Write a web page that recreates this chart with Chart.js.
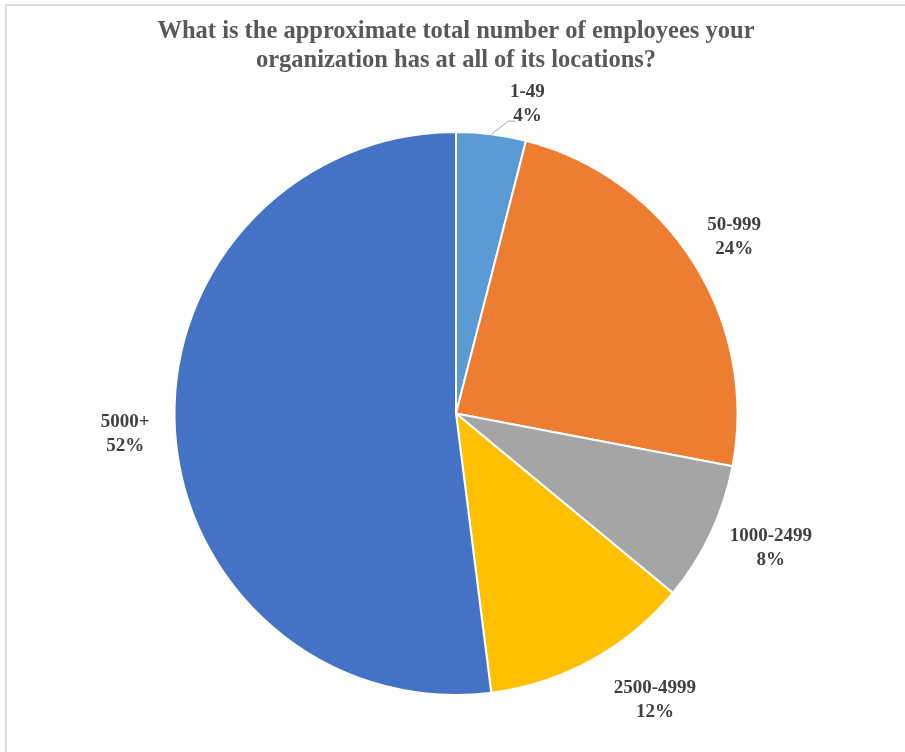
<!DOCTYPE html>
<html>
<head>
<meta charset="utf-8">
<script src="https://cdn.jsdelivr.net/npm/chart.js@4.4.1/dist/chart.umd.min.js"></script>
<style>
html,body{margin:0;padding:0;background:#fff;}
#wrap{position:relative;width:905px;height:752px;}
#frame{position:absolute;left:5px;top:4px;right:0;bottom:0;border-top:2px solid #dcdcdc;border-left:2px solid #dcdcdc;}
canvas{position:absolute;left:0;top:0;}
</style>
</head>
<body>
<div id="wrap">
<div id="frame"></div>
<canvas id="pieChart" width="905" height="752"></canvas>
</div>
<script>
const titleLines = [
"What is the approximate total number of employees your",
"organization has at all of its locations?"
];

const categories = ["1-49","50-999","1000-2499","2500-4999","5000+"];
const shares = [4,24,8,12,52];
const colors = ["#5B9BD5","#ED7D31","#A5A5A5","#FFC000","#4472C4"];

// label placement: extra distance past the rim (px) and angle nudge (deg)
const labelPlace = [
{d:36, turn:5.8, leader:true},
{d:48, turn:0},
{d:61, turn:-2},
{d:67, turn:-6},
{d:50, turn:0}
];

const labelPlugin = {
id:"labels",
afterDraw(chart){

const ctx = chart.ctx;
ctx.save();

// title
ctx.fillStyle = "#595959";
ctx.font = "bold 24.5px 'Liberation Serif', 'Times New Roman', serif";
ctx.textAlign = "center";
ctx.textBaseline = "middle";
ctx.fillText(titleLines[0], 456, 32);
ctx.fillText(titleLines[1], 456, 61);

const meta = chart.getDatasetMeta(0);

meta.data.forEach((arc,i)=>{

const p = arc.getProps(["x","y","startAngle","endAngle","outerRadius"],true);
const mid = (p.startAngle+p.endAngle)/2;
const pl = labelPlace[i];
const a = mid + pl.turn*Math.PI/180;
const r = p.outerRadius + pl.d;
const lx = p.x + Math.cos(a)*r;
const ly = p.y + Math.sin(a)*r;

if(pl.leader){
ctx.strokeStyle = "#a6a6a6";
ctx.lineWidth = 1;
ctx.beginPath();
ctx.moveTo(p.x+Math.cos(mid)*p.outerRadius, p.y+Math.sin(mid)*p.outerRadius);
ctx.lineTo(lx-19, ly+17);
ctx.lineTo(lx-12, ly+17);
ctx.stroke();
}

ctx.fillStyle = "#404040";
ctx.font = "bold 19px 'Liberation Serif', 'Times New Roman', serif";
ctx.fillText(categories[i], lx, ly-12);
ctx.fillText(shares[i]+"%", lx, ly+12);

});

ctx.restore();
}
};

new Chart(
document.getElementById("pieChart"),
{
type:"pie",
data:{
labels:categories,
datasets:[{
data:shares,
backgroundColor:colors,
borderColor:"#ffffff",
borderWidth:2
}]
},
options:{
responsive:false,
animation:false,
layout:{
padding:{top:131,bottom:56,left:100,right:93}
},
plugins:{
legend:{display:false},
tooltip:{enabled:false}
}
},
plugins:[labelPlugin]
}
);
</script>
</body>
</html>
